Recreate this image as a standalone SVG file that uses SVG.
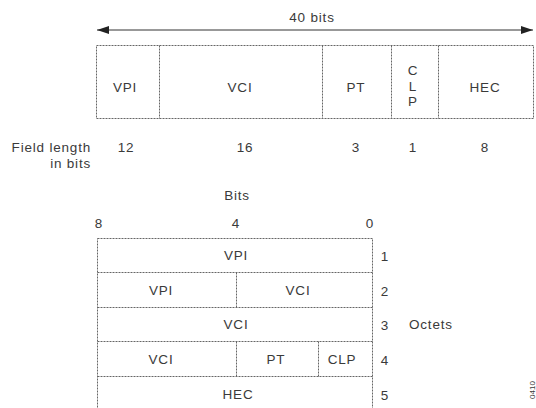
<svg xmlns="http://www.w3.org/2000/svg" width="536" height="408" viewBox="0 0 536 408">
<defs>
<marker id="ah" viewBox="0 0 12 8" refX="12" refY="4" markerWidth="12" markerHeight="8" orient="auto-start-reverse" markerUnits="userSpaceOnUse">
<path d="M0,0 L12,4 L0,8 Z" fill="#222"/>
</marker>
</defs>
<style>
text{font-family:"Liberation Sans",Arial,sans-serif;font-size:13.5px;fill:#3a3a3a;letter-spacing:0.8px;}
.c{text-anchor:middle;}
.r{text-anchor:end;}
.box{fill:#fff;stroke:#666;stroke-width:1;stroke-dasharray:2 1;}
.ln{stroke:#666;stroke-width:1;stroke-dasharray:2 1;fill:none;}
</style>
<rect width="536" height="408" fill="#fff"/>
<g id="connectors">
<line x1="97" y1="30" x2="533" y2="30" stroke="#333" stroke-width="1" marker-start="url(#ah)" marker-end="url(#ah)"/>
</g>
<text class="c" x="312" y="22">40 bits</text>
<g id="header">
<rect class="box" x="96.500" y="45.500" width="437" height="73"/>
<line class="ln" x1="159.500" y1="45.500" x2="159.500" y2="118.500"/>
<line class="ln" x1="322.500" y1="45.500" x2="322.500" y2="118.500"/>
<line class="ln" x1="391.500" y1="45.500" x2="391.500" y2="118.500"/>
<line class="ln" x1="438.500" y1="45.500" x2="438.500" y2="118.500"/>
<text class="c" x="125" y="92">VPI</text>
<text class="c" x="240" y="92">VCI</text>
<text class="c" x="356" y="92">PT</text>
<text class="c" x="413" y="75">C</text>
<text class="c" x="413" y="90.500">L</text>
<text class="c" x="413" y="106">P</text>
<text class="c" x="485" y="92">HEC</text>
</g>
<g id="lengths">
<text class="r" x="91" y="152">Field length</text>
<text class="r" x="91" y="168">in bits</text>
<text class="c" x="126" y="152">12</text>
<text class="c" x="245" y="152">16</text>
<text class="c" x="356" y="152">3</text>
<text class="c" x="413" y="152">1</text>
<text class="c" x="485" y="152">8</text>
</g>
<text class="c" x="237" y="200">Bits</text>
<text class="c" x="99" y="228">8</text>
<text class="c" x="236" y="228">4</text>
<text class="c" x="370" y="228">0</text>
<g id="octets">
<rect class="box" x="97.500" y="238.500" width="275" height="180"/>
<line class="ln" x1="97.500" y1="272.500" x2="372.500" y2="272.500"/>
<line class="ln" x1="97.500" y1="307.500" x2="372.500" y2="307.500"/>
<line class="ln" x1="97.500" y1="341.500" x2="372.500" y2="341.500"/>
<line class="ln" x1="97.500" y1="376.500" x2="372.500" y2="376.500"/>
<line class="ln" x1="236.500" y1="272.500" x2="236.500" y2="307.500"/>
<line class="ln" x1="236.500" y1="341.500" x2="236.500" y2="376.500"/>
<line class="ln" x1="318.500" y1="341.500" x2="318.500" y2="376.500"/>
<text class="c" x="236" y="260">VPI</text>
<text class="c" x="161" y="295">VPI</text>
<text class="c" x="298" y="295">VCI</text>
<text class="c" x="236" y="329">VCI</text>
<text class="c" x="161" y="364">VCI</text>
<text class="c" x="276" y="364">PT</text>
<text class="c" x="342" y="364">CLP</text>
<text class="c" x="238" y="399">HEC</text>
<text class="c" x="385" y="261">1</text>
<text class="c" x="385" y="296">2</text>
<text class="c" x="385" y="330">3</text>
<text class="c" x="385" y="365">4</text>
<text class="c" x="385" y="400">5</text>
<text x="409" y="329">Octets</text>
</g>
<text class="c" x="0" y="0" transform="translate(535,390) rotate(-90)" style="font-size:8px;letter-spacing:0">0410</text>
</svg>
